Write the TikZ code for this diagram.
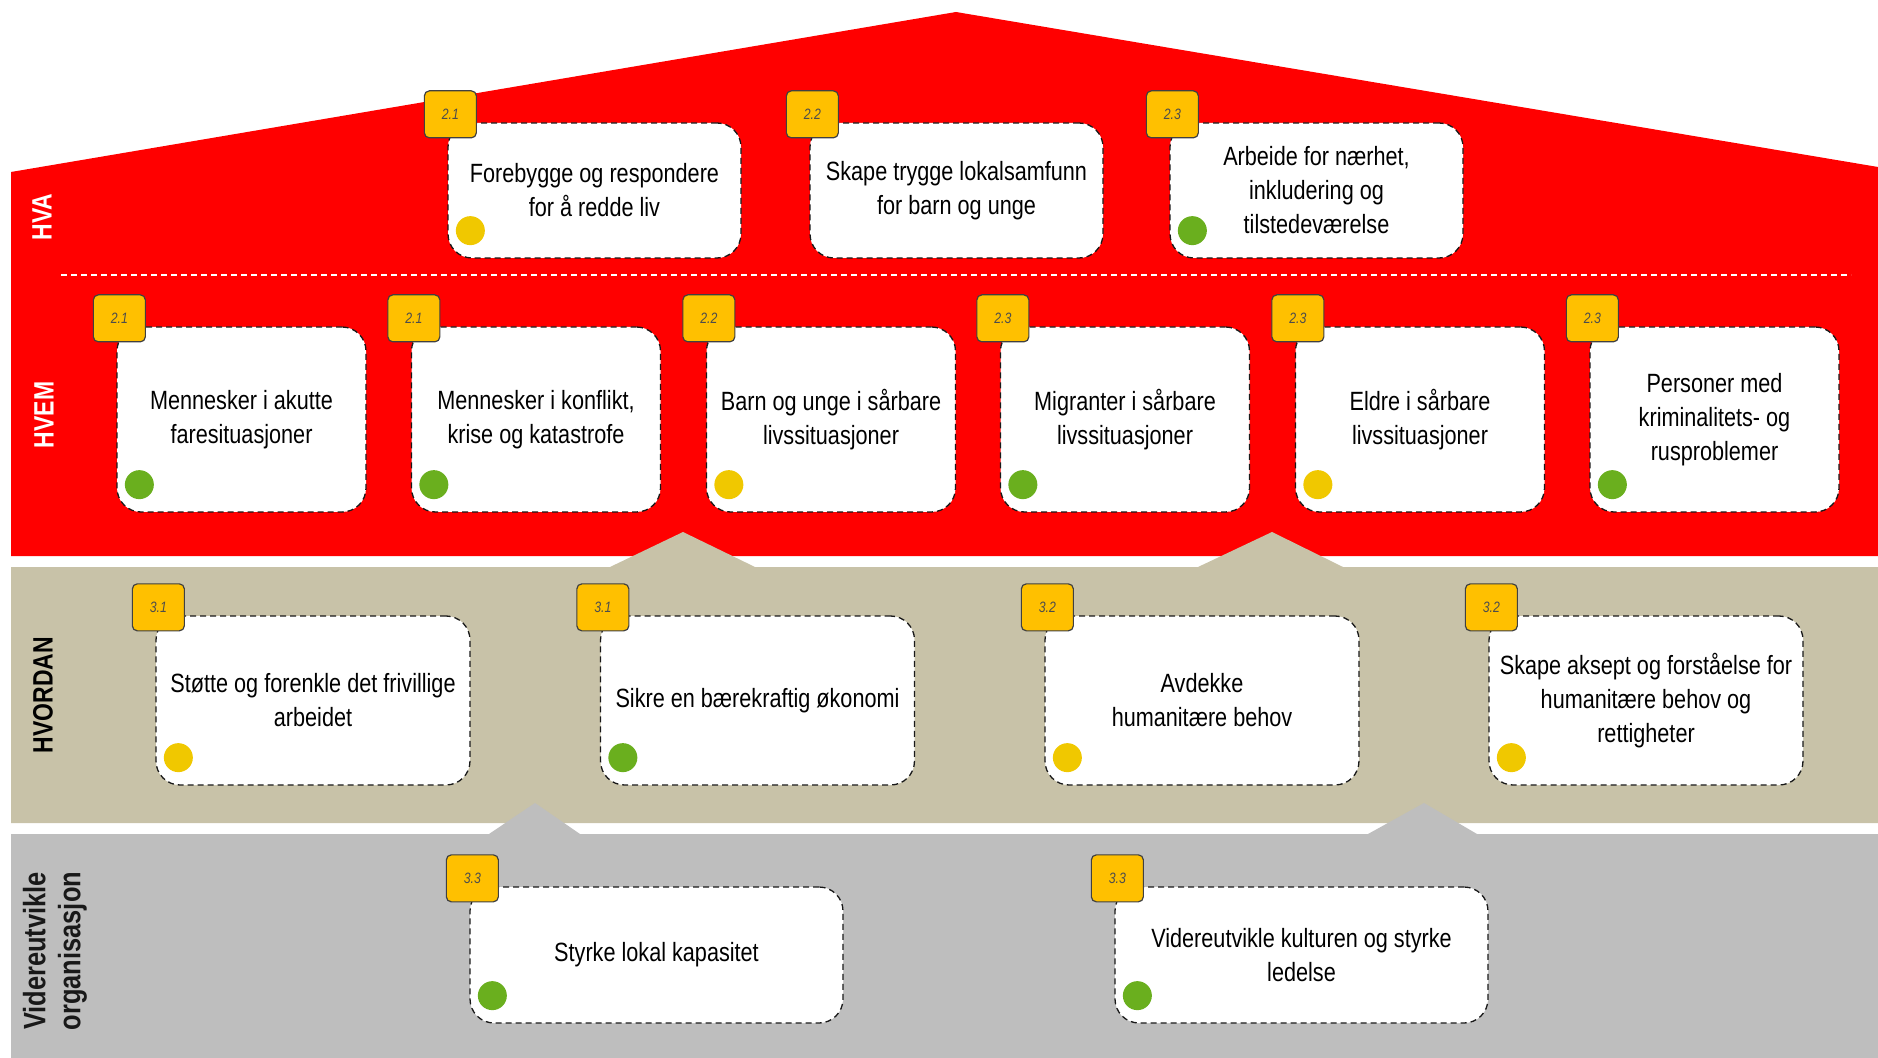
\documentclass[tikz,border=0pt]{standalone}
\usepackage{fontspec}
\setmainfont[FakeStretch=0.82]{Liberation Sans}
\usetikzlibrary{calc}

\definecolor{roofred}{HTML}{FF0000}
\definecolor{sand}{HTML}{C8C2A8}
\definecolor{stone}{HTML}{BEBEBE}
\definecolor{badge}{HTML}{FFC000}
\definecolor{dotyel}{HTML}{F0C800}
\definecolor{dotgrn}{HTML}{6AAF1E}

\begin{document}
\begin{tikzpicture}[x=0.5pt,y=-0.5pt,
  goal/.style={draw=black!90,densely dashed,line width=0.65pt,fill=white,rounded corners=12pt,align=center,inner sep=2pt,font=\fontsize{13.2}{17}\selectfont},
  hva/.style={goal,minimum width=146.5pt,minimum height=67.5pt},
  hvem/.style={goal,minimum width=124.5pt,minimum height=92.5pt},
  hvordan/.style={goal,minimum width=157pt,minimum height=84.5pt},
  orgbox/.style={goal,minimum width=186.5pt,minimum height=68pt},
  nr/.style={draw=black!75,solid,line width=0.6pt,fill=badge,rounded corners=2.5pt,minimum width=26pt,minimum height=23.5pt,inner sep=0pt,font=\fontsize{7.5}{8}\selectfont\itshape,text=black!70},
  gul/.style={circle,fill=dotyel,minimum size=14.5pt,inner sep=0pt},
  gronn/.style={circle,fill=dotgrn,minimum size=14.5pt,inner sep=0pt},
  lane/.style={rotate=90,align=center,font=\fontsize{14}{17.5}\selectfont\bfseries}]
\useasboundingbox (0,0) rectangle (1878,1058);

% house
\fill[roofred] (11,172) -- (956,12) -- (1878,167) -- (1878,556) -- (11,556) -- cycle;
\fill[sand] (11,567) -- (610,567) -- (683,532) -- (755,567) -- (1198,567) -- (1272,532) -- (1343,567) -- (1878,567) -- (1878,823) -- (11,823) -- cycle;
\fill[stone] (11,834) -- (489,834) -- (535,803) -- (580,834) -- (1368,834) -- (1424,803) -- (1477,834) -- (1878,834) -- (1878,1058) -- (11,1058) -- cycle;
\draw[white,densely dashed,line width=0.6pt] (61,275) -- (1851,275);

\node[lane,text=white] (lhva) at (42,217) {HVA};
\node[lane,text=white] (lhvem) at (44,415) {HVEM};
\node[lane,text=black] (lhvordan) at (43,695) {HVORDAN};
\node[lane,text=black!90,font=\fontsize{15.5}{17.5}\selectfont\bfseries] (lorg) at (55,951) {Videreutvikle\\organisasjon};

% HVA
\node[hva] (a1) at (594.5,190.5) {Forebygge og respondere\\for å redde liv};
\node[hva] (a2) at (956.5,190.5) {Skape trygge lokalsamfunn\\for barn og unge};
\node[hva] (a3) at (1316.5,190.5) {Arbeide for nærhet,\\inkludering og\\tilstedeværelse};

% HVEM
\node[hvem] (b1) at (241.5,419.5) {Mennesker i akutte\\faresituasjoner};
\node[hvem] (b2) at (536,419.5) {Mennesker i konflikt,\\krise og katastrofe};
\node[hvem] (b3) at (831,419.5) {Barn og unge i sårbare\\livssituasjoner};
\node[hvem] (b4) at (1125,419.5) {Migranter i sårbare\\livssituasjoner};
\node[hvem] (b5) at (1420,419.5) {Eldre i sårbare\\livssituasjoner};
\node[hvem] (b6) at (1714.5,419.5) {Personer med\\kriminalitets- og\\rusproblemer};

% HVORDAN
\node[hvordan] (c1) at (313,700.5) {Støtte og forenkle det frivillige\\arbeidet};
\node[hvordan] (c2) at (757.5,700.5) {Sikre en bærekraftig økonomi};
\node[hvordan] (c3) at (1202,700.5) {Avdekke\\humanitære behov};
\node[hvordan] (c4) at (1646,700.5) {Skape aksept og forståelse for\\humanitære behov og\\rettigheter};

% organisasjon
\node[orgbox] (d1) at (656.5,955) {Styrke lokal kapasitet};
\node[orgbox] (d2) at (1301.5,955) {Videreutvikle kulturen og styrke\\ledelse};

% badges
\node[nr] (na1) at ($(a1.north west)+(3,-8)$) {2.1};
\node[nr] (na2) at ($(a2.north west)+(3,-8)$) {2.2};
\node[nr] (na3) at ($(a3.north west)+(3,-8)$) {2.3};
\node[nr] (nb1) at ($(b1.north west)+(3,-8)$) {2.1};
\node[nr] (nb2) at ($(b2.north west)+(3,-8)$) {2.1};
\node[nr] (nb3) at ($(b3.north west)+(3,-8)$) {2.2};
\node[nr] (nb4) at ($(b4.north west)+(3,-8)$) {2.3};
\node[nr] (nb5) at ($(b5.north west)+(3,-8)$) {2.3};
\node[nr] (nb6) at ($(b6.north west)+(3,-8)$) {2.3};
\node[nr] (nc1) at ($(c1.north west)+(3,-8)$) {3.1};
\node[nr] (nc2) at ($(c2.north west)+(3,-8)$) {3.1};
\node[nr] (nc3) at ($(c3.north west)+(3,-8)$) {3.2};
\node[nr] (nc4) at ($(c4.north west)+(3,-8)$) {3.2};
\node[nr] (nd1) at ($(d1.north west)+(3,-8)$) {3.3};
\node[nr] (nd2) at ($(d2.north west)+(3,-8)$) {3.3};

% status dots
\node[gul] (sa1) at ($(a1.south west)+(23,-28)$) {};
\node[gronn] (sa3) at ($(a3.south west)+(23,-28)$) {};
\node[gronn] (sb1) at ($(b1.south west)+(23,-28)$) {};
\node[gronn] (sb2) at ($(b2.south west)+(23,-28)$) {};
\node[gul] (sb3) at ($(b3.south west)+(23,-28)$) {};
\node[gronn] (sb4) at ($(b4.south west)+(23,-28)$) {};
\node[gul] (sb5) at ($(b5.south west)+(23,-28)$) {};
\node[gronn] (sb6) at ($(b6.south west)+(23,-28)$) {};
\node[gul] (sc1) at ($(c1.south west)+(23,-28)$) {};
\node[gronn] (sc2) at ($(c2.south west)+(23,-28)$) {};
\node[gul] (sc3) at ($(c3.south west)+(23,-28)$) {};
\node[gul] (sc4) at ($(c4.south west)+(23,-28)$) {};
\node[gronn] (sd1) at ($(d1.south west)+(23,-28)$) {};
\node[gronn] (sd2) at ($(d2.south west)+(23,-28)$) {};
\end{tikzpicture}
\end{document}
